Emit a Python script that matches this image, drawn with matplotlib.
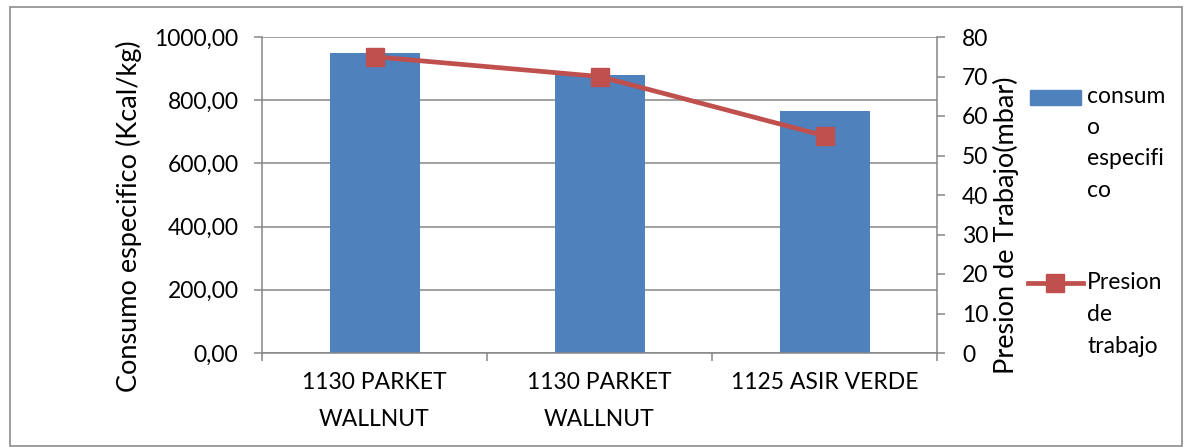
import matplotlib
matplotlib.use("Agg")
import matplotlib.pyplot as plt
from matplotlib.ticker import FuncFormatter, MultipleLocator, FixedLocator
from matplotlib.patches import Rectangle
from matplotlib.lines import Line2D

# ---- data ----
categories = ["1130 PARKET\nWALLNUT", "1130 PARKET\nWALLNUT", "1125 ASIR VERDE"]
consumo_especifico = [948, 880, 767]      # Kcal/kg
presion_trabajo = [75, 70, 55]            # mbar
legend_labels = ["consum\no\nespecifi\nco", "Presion\nde\ntrabajo"]

BLUE = "#4F81BD"
RED = "#C0504D"
GRID = "#868686"
FONT = "Lato"
FS = 16.5
FS_LABEL = 19.5

plt.rcParams["font.family"] = [FONT, "DejaVu Sans"]

W, H = 1194, 447
fig = plt.figure(figsize=(W / 100, H / 100), dpi=100)

# outer chart border
fig.patches.append(Rectangle((10 / W, 1 - 446 / H), 1172 / W, 439 / H,
                             transform=fig.transFigure, fill=False,
                             edgecolor="#8C8C8C", linewidth=1.2))

left, right, top, bottom = 262, 937, 37, 353
ax = fig.add_axes([left / W, 1 - bottom / H, (right - left) / W, (bottom - top) / H])
ax2 = ax.twinx()

x = list(range(len(categories)))
ax.bar(x, consumo_especifico, width=0.4, color=BLUE, zorder=2)
ax.set_xlim(-0.5, len(categories) - 0.5)
ax.set_ylim(0, 1000)
ax.yaxis.set_major_locator(MultipleLocator(200))
ax.yaxis.set_major_formatter(FuncFormatter(lambda v, p: f"{v:.2f}".replace(".", ",")))
ax.grid(axis="y", color=GRID, linewidth=1.1, zorder=0)
ax.set_axisbelow(True)

ax.set_xticks(x)
ax.set_xticklabels(categories, fontsize=FS)
for t in ax.get_xticklabels():
    t.set_linespacing(1.9)
ax.xaxis.set_minor_locator(FixedLocator([-0.5, 0.5, 1.5, 2.5]))
ax.tick_params(axis="x", which="major", length=0, pad=14)
ax.tick_params(axis="x", which="minor", length=6, color=GRID, width=1.1, direction="out")
ax.tick_params(axis="y", length=6, color=GRID, width=1.1, labelsize=FS, pad=11)

ax2.plot(x, presion_trabajo, color=RED, linewidth=3.4, marker="s", markersize=13,
         markerfacecolor=RED, markeredgecolor=RED, zorder=3)
ax2.set_ylim(0, 80)
ax2.yaxis.set_major_locator(MultipleLocator(10))
ax2.tick_params(axis="y", length=6, color=GRID, width=1.1, labelsize=FS, pad=12)

for a in (ax, ax2):
    a.spines["top"].set_visible(False)
    for s in ("left", "right", "bottom"):
        a.spines[s].set_color(GRID)
        a.spines[s].set_linewidth(1.1)
ax2.spines["left"].set_visible(False)
ax2.spines["bottom"].set_visible(False)
ax.spines["right"].set_visible(False)

ax.set_ylabel("Consumo especifico (Kcal/kg)", fontsize=FS_LABEL)
ax2.set_ylabel("Presion de Trabajo(mbar)", fontsize=FS_LABEL)
ax.yaxis.set_label_coords((142 - left) / (right - left), (bottom - 216) / (bottom - top))
ax2.yaxis.set_label_coords((993 - left) / (right - left), (bottom - 225) / (bottom - top))

# legend drawn at fixed positions on the right
fig.patches.append(Rectangle((1030 / W, 1 - 105 / H), 51 / W, 15 / H,
                             transform=fig.transFigure, color=BLUE))
fig.lines.append(Line2D([1028 / W, 1083 / W], [1 - 283 / H, 1 - 283 / H],
                        transform=fig.transFigure, color=RED, linewidth=3.4))
fig.lines.append(Line2D([1055 / W], [1 - 283 / H], transform=fig.transFigure,
                        color=RED, marker="s", markersize=13, linestyle="none"))
fig.text(1087 / W, 1 - 86 / H, legend_labels[0], fontsize=FS, va="top", ha="left",
         linespacing=1.6)
fig.text(1087 / W, 1 - 272 / H, legend_labels[1], fontsize=FS, va="top", ha="left",
         linespacing=1.65)

fig.savefig("out.png", dpi=100)
